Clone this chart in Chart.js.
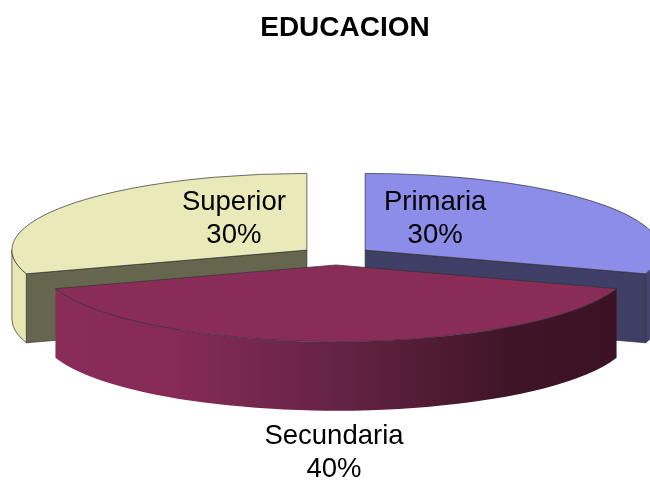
<!DOCTYPE html>
<html>
<head>
<meta charset="utf-8">
<script src="https://cdn.jsdelivr.net/npm/chart.js@4"></script>
<style>
  html, body { margin: 0; padding: 0; background: #fff; }
  canvas { display: block; }
</style>
</head>
<body>
<canvas id="educacionChart" width="650" height="481"></canvas>
<script>
const categories = ['Primaria', 'Secundaria', 'Superior'];
const values = [30, 40, 30];

const topColors = ['#8c8ce9', '#8a2c58', '#e9e9b9'];
const cutColors = ['#3e3e66', null, '#66664f'];
const wallColors = ['#43436d', null, '#e7e7b4'];

const tilt = 0.26;
const depth = 69;
const explode = 36;
const pieX = 336;
const pieY = 255.6;
const labelFont = '27.5px "Liberation Sans", Arial, sans-serif';

// label anchor relative to the tip of each slice
const labelOffsets = [[70, -40], [-2, 179], [-73, -40]];

const pie3d = {
  id: 'pie3d',
  beforeDatasetsDraw(chart) {
    const ctx = chart.ctx;
    const arcs = chart.getDatasetMeta(0).data;
    const order = arcs.map((a, i) => i).sort((a, b) => midAngleSin(arcs[a]) - midAngleSin(arcs[b]));

    order.forEach(i => {
      const arc = arcs[i];
      const mid = (arc.startAngle + arc.endAngle) / 2;
      const cx = pieX + Math.cos(mid) * explode;
      const cy = pieY + Math.sin(mid) * explode * tilt;
      const r = arc.outerRadius;
      const ry = r * tilt;

      ctx.save();
      ctx.lineWidth = 1;
      ctx.strokeStyle = 'rgba(50, 50, 50, 0.7)';

      // flat cut face, only the ones looking at the viewer
      [arc.startAngle, arc.endAngle].forEach(a => {
        if (!cutColors[i]) return;
        const s = Math.sin(a), c = Math.cos(a);
        if (s < 0 || s > 0.9) return;
        ctx.beginPath();
        ctx.moveTo(cx, cy);
        ctx.lineTo(cx + c * r, cy + s * ry);
        ctx.lineTo(cx + c * r, cy + s * ry + depth);
        ctx.lineTo(cx, cy + depth);
        ctx.closePath();
        ctx.fillStyle = cutColors[i];
        ctx.fill();
        ctx.stroke();
      });

      // rounded outer wall, front half only
      const a0 = Math.max(arc.startAngle, 0);
      const a1 = Math.min(arc.endAngle, Math.PI);
      if (a1 > a0) {
        ctx.beginPath();
        ctx.ellipse(cx, cy, r, ry, 0, a0, a1);
        ctx.ellipse(cx, cy + depth, r, ry, 0, a1, a0, true);
        ctx.closePath();
        if (wallColors[i]) {
          ctx.fillStyle = wallColors[i];
          ctx.fill();
          ctx.stroke();
        } else {
          const g = ctx.createLinearGradient(cx - r, 0, cx + r, 0);
          g.addColorStop(0, '#8a2c58');
          g.addColorStop(0.22, '#862b56');
          g.addColorStop(0.5, '#652344');
          g.addColorStop(0.8, '#3f1427');
          g.addColorStop(1, '#3a1222');
          ctx.fillStyle = g;
          ctx.fill();
        }
      }

      // top face is the library's own arc, squashed
      ctx.save();
      ctx.translate(cx - arc.x, cy);
      ctx.scale(1, tilt);
      ctx.translate(0, -arc.y);
      arc.draw(ctx);
      ctx.restore();

      ctx.beginPath();
      ctx.moveTo(cx, cy);
      ctx.ellipse(cx, cy, r, ry, 0, arc.startAngle, arc.endAngle);
      ctx.closePath();
      ctx.stroke();
      ctx.restore();
    });

    ctx.save();
    ctx.font = labelFont;
    ctx.fillStyle = '#000';
    ctx.textAlign = 'center';
    ctx.textBaseline = 'alphabetic';
    arcs.forEach((arc, i) => {
      const mid = (arc.startAngle + arc.endAngle) / 2;
      const x = pieX + Math.cos(mid) * explode + labelOffsets[i][0];
      const y = pieY + Math.sin(mid) * explode * tilt + labelOffsets[i][1];
      ctx.fillText(categories[i], x, y);
      ctx.fillText(values[i] + '%', x, y + 33);
    });
    ctx.restore();
    return false;
  }
};

function midAngleSin(arc) {
  return Math.sin((arc.startAngle + arc.endAngle) / 2);
}

new Chart(document.getElementById('educacionChart').getContext('2d'), {
  type: 'pie',
  data: {
    labels: categories,
    datasets: [{
      data: values,
      backgroundColor: topColors,
      borderWidth: 0,
      radius: 295
    }]
  },
  options: {
    responsive: false,
    animation: false,
    events: [],
    layout: { padding: { left: 40 } },
    plugins: {
      legend: { display: false },
      tooltip: { enabled: false },
      title: {
        display: true,
        text: 'EDUCACION',
        color: '#000',
        font: { family: '"Liberation Sans", Arial, sans-serif', size: 28, weight: 'bold' },
        padding: { top: 11, bottom: 10 }
      }
    }
  },
  plugins: [pie3d]
});
</script>
</body>
</html>
